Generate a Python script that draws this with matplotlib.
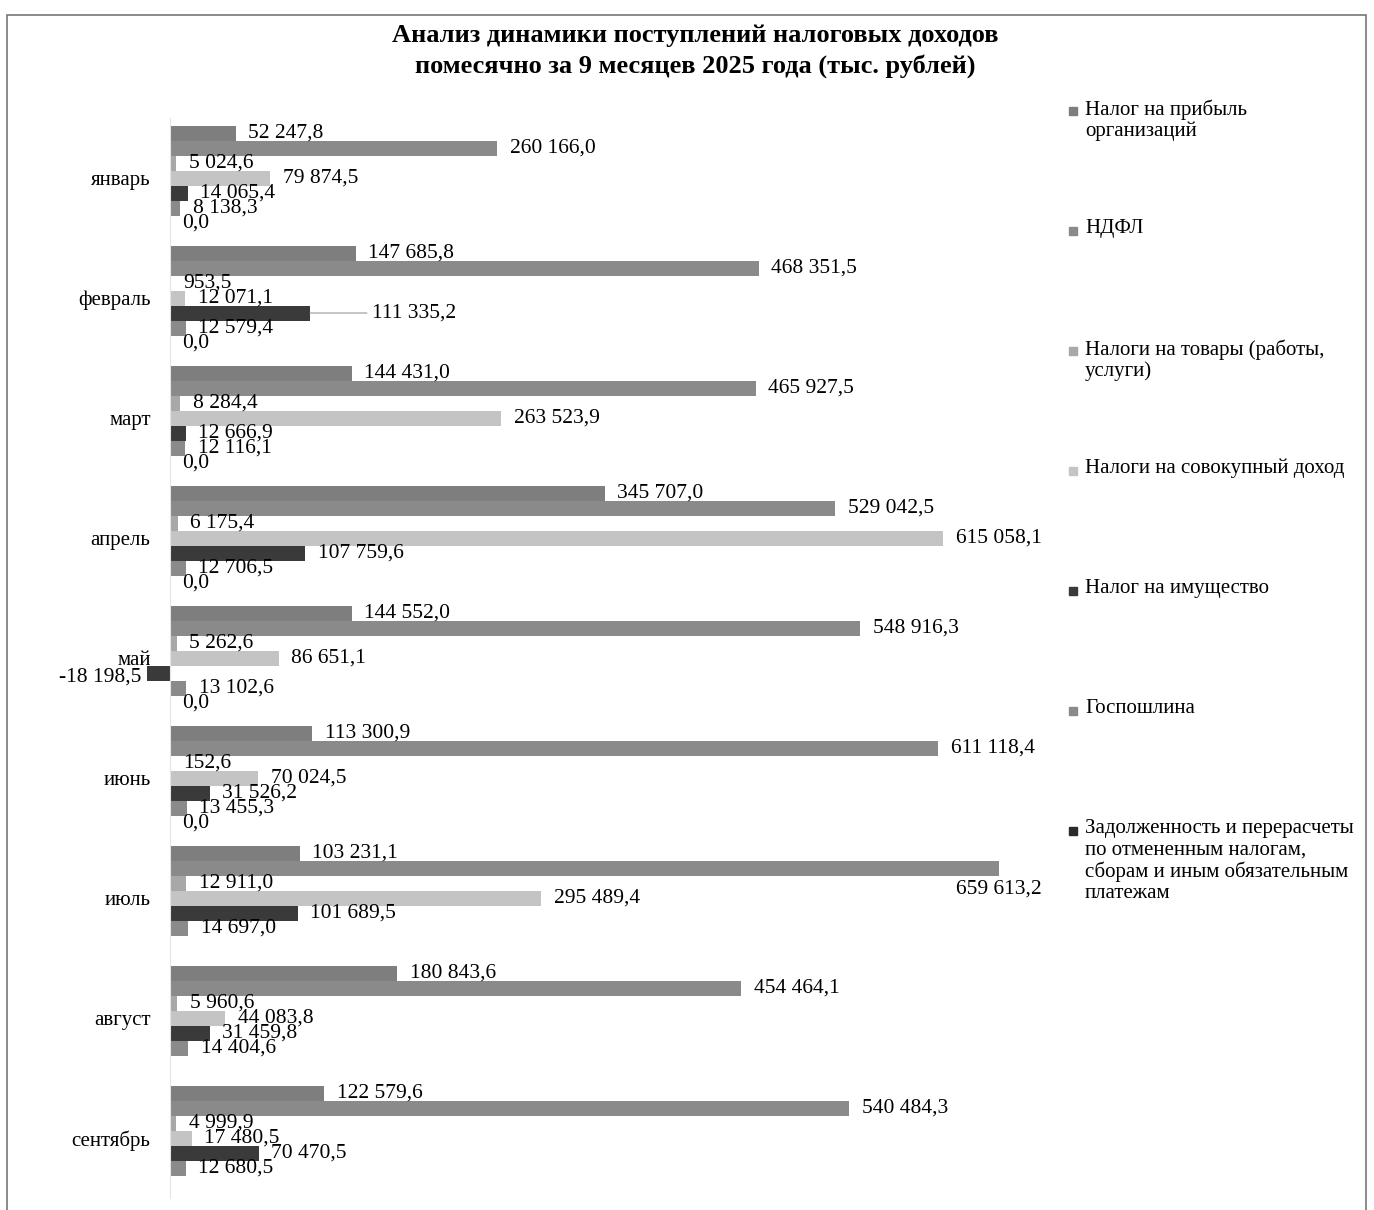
import matplotlib as mpl
mpl.use('Agg')
import matplotlib.pyplot as plt
from matplotlib.patches import Rectangle
import numpy as np

plt.rcParams['font.family'] = ['Liberation Serif', 'DejaVu Serif']

months = ['январь', 'февраль', 'март', 'апрель', 'май', 'июнь', 'июль', 'август', 'сентябрь']
series_names = ['Налог на прибыль\nорганизаций', 'НДФЛ', 'Налоги на товары (работы,\nуслуги)',
                'Налоги на совокупный доход', 'Налог на имущество', 'Госпошлина',
                'Задолженность и перерасчеты\nпо отмененным налогам,\nсборам и иным обязательным\nплатежам']

profit = [52247.8, 147685.8, 144431.0, 345707.0, 144552.0, 113300.9, 103231.1, 180843.6, 122579.6]
ndfl = [260166.0, 468351.5, 465927.5, 529042.5, 548916.3, 611118.4, 659613.2, 454464.1, 540484.3]
goods = [5024.6, 953.5, 8284.4, 6175.4, 5262.6, 152.6, 12911.0, 5960.6, 4999.9]
total_income = [79874.5, 12071.1, 263523.9, 615058.1, 86651.1, 70024.5, 295489.4, 44083.8, 17480.5]
property_tax = [14065.4, 111335.2, 12666.9, 107759.6, -18198.5, 31526.2, 101689.5, 31459.8, 70470.5]
duty = [8138.3, 12579.4, 12116.1, 12706.5, 13102.6, 13455.3, 14697.0, 14404.6, 12680.5]
debt = [0.0, 0.0, 0.0, 0.0, 0.0, 0.0, None, None, None]

all_series = [profit, ndfl, goods, total_income, property_tax, duty, debt]
colors = ['#7e7e7e', '#8a8a8a', '#a8a8a8', '#c4c4c4', '#3a3a3a', '#8a8a8a', '#2b2b2b']

def fmt(v):
    return '{:,.1f}'.format(v).replace(',', ' ').replace('.', ',')

fig = plt.figure(figsize=(13.74, 12.10), dpi=100)
W, H = 1374, 1210
ax = fig.add_axes([170 / W, 1 - 1198 / H, 880 / W, 1080 / H])

bh = 0.125
y = np.arange(len(months))
for i, (vals, col) in enumerate(zip(all_series, colors)):
    off = (i - 3) * bh
    for j, v in enumerate(vals):
        if v is None:
            continue
        yy = y[j] + off
        ax.barh(yy, v, height=bh, color=col, edgecolor='none', clip_on=False)
        if v < 0:
            ax.annotate(fmt(v), (v, yy), xytext=(-4, -3), textcoords='offset points',
                        ha='right', va='center', fontsize=15.5, annotation_clip=False)
        elif v > 640000:
            ax.annotate(fmt(v), (v, yy), xytext=(0, -15), textcoords='offset points',
                        ha='center', va='center', fontsize=15.5, annotation_clip=False)
        elif i == 4 and j == 1:
            # label moved aside with a leader line, as in the original
            ax.annotate(fmt(v), (v, yy), xytext=(45, 0), textcoords='offset points',
                        ha='left', va='center', fontsize=15.5, annotation_clip=False,
                        arrowprops=dict(arrowstyle='-', color='#999999', lw=0.8,
                                        shrinkA=2, shrinkB=0))
        else:
            ax.annotate(fmt(v), (v, yy), xytext=(9, 0), textcoords='offset points',
                        ha='left', va='center', fontsize=15.5, annotation_clip=False)

ax.set_xlim(0, 700000)
ax.set_ylim(len(months) - 0.5, -0.5)
ax.set_yticks(y)
ax.set_yticklabels(months, fontsize=15)
ax.tick_params(axis='y', length=0, pad=14)
ax.xaxis.set_visible(False)
for s in ['top', 'right', 'bottom']:
    ax.spines[s].set_visible(False)
ax.spines['left'].set_color('#e4e4e4')
ax.patch.set_alpha(0)

# title
fig.text(695 / W, 1 - 24 / H, 'Анализ динамики поступлений налоговых доходов\nпомесячно за 9 месяцев 2025 года (тыс. рублей)',
         ha='center', va='top', fontsize=19, fontweight='bold', linespacing=1.4)

# legend
for i, (name, col) in enumerate(zip(series_names, colors)):
    yy = 111 + 120 * i
    fig.patches.append(Rectangle((1069 / W, 1 - (yy + 4) / H), 8 / W, 8 / H,
                                 transform=fig.transFigure, color=col, figure=fig))
    fig.text(1085 / W, 1 - (yy - 12) / H, name, ha='left', va='top', fontsize=15, linespacing=1.15)

# outer frame (runs past the bottom edge)
fig.patches.append(Rectangle((7 / W, -10 / H), 1359 / W, 1205 / H, transform=fig.transFigure,
                             fill=False, edgecolor='#777777', linewidth=1.2, figure=fig))

fig.savefig('out.png', dpi=100)
